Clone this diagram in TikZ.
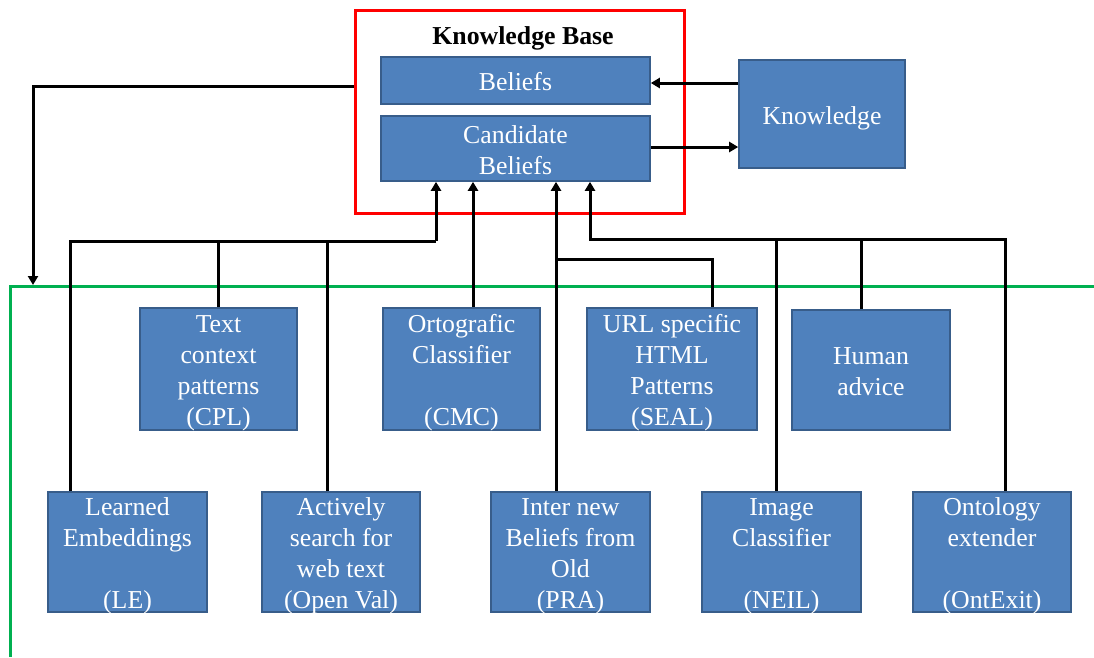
\documentclass[tikz,border=0pt]{standalone}
\usepackage{fontspec}
\setmainfont{Liberation Serif}
\usetikzlibrary{arrows.meta}
\definecolor{boxfill}{HTML}{4F81BD}
\definecolor{boxline}{HTML}{385D8A}
\definecolor{kbred}{HTML}{FF0000}
\definecolor{grn}{HTML}{00B050}
\newcommand{\bxt}[1]{\raisebox{-10.5pt}[0pt][0pt]{\begin{tabular}{@{}c@{}}#1\end{tabular}}}
\tikzset{
  blk/.style={draw=boxline, fill=boxfill, line width=1.6pt, text=white,
    inner sep=0pt, font=\fontsize{25.8}{31}\selectfont},
  conn/.style={draw=black, line width=3pt},
  arr/.style={conn, -{Triangle[length=9pt,width=10pt]}},
}
\begin{document}
\begin{tikzpicture}[x=1pt,y=-1pt]
\useasboundingbox (0,0) rectangle (1094,657);
% frames
\node[draw=kbred, line width=3pt, minimum width=329, minimum height=203, inner sep=0pt] (kb) at (519.5,111.5) {};
\node[font=\fontsize{25.8}{31}\selectfont\bfseries] (kbt) at (523,38) {Knowledge Base};
\draw[grn, line width=3pt] (10,657) -- (10,286) -- (1094,286);
% knowledge base boxes
\node[blk, minimum width=269, minimum height=47] (bel) at (515.5,80.5) {\bxt{Beliefs}};
\node[blk, minimum width=269, minimum height=65] (cand) at (515.5,148.5) {\bxt{Candidate\\Beliefs}};
\node[blk, minimum width=166, minimum height=108] (know) at (822,114) {\bxt{Knowledge}};
% top row
\node[blk, minimum width=157, minimum height=122] (cpl) at (218.5,369) {\bxt{Text\\context\\patterns\\(CPL)}};
\node[blk, minimum width=157, minimum height=122] (cmc) at (461.5,369) {\bxt{Ortografic\\Classifier\\ \\(CMC)}};
\node[blk, minimum width=170, minimum height=122] (seal) at (672,369) {\bxt{URL specific\\HTML\\Patterns\\(SEAL)}};
\node[blk, minimum width=158, minimum height=120] (hum) at (871,370) {\bxt{Human\\advice}};
% bottom row
\node[blk, minimum width=159, minimum height=120] (le) at (127.5,552) {\bxt{Learned\\Embeddings\\ \\(LE)}};
\node[blk, minimum width=158, minimum height=120] (ov) at (341,552) {\bxt{Actively\\search for\\web text\\(Open Val)}};
\node[blk, minimum width=159, minimum height=120] (pra) at (570.5,552) {\bxt{Inter new\\Beliefs from\\Old\\(PRA)}};
\node[blk, minimum width=159, minimum height=120] (neil) at (781.5,552) {\bxt{Image\\Classifier\\ \\(NEIL)}};
\node[blk, minimum width=158, minimum height=120] (ont) at (992,552) {\bxt{Ontology\\extender\\ \\(OntExit)}};
% knowledge connectors
\draw[arr] (know.west |- 0,83) -- (bel.east |- 0,83);
\draw[arr] (cand.east |- 0,147) -- (know.west |- 0,147);
% feedback to green area
\coordinate (gl) at (33,285);
\draw[arr] (kb.west |- 0,86) -| (gl);
% left bus
\coordinate (b1) at (436,241);
\coordinate (xle) at (70,241);
\coordinate (xcpl) at (218.5,241);
\coordinate (xov) at (327,241);
\draw[conn] (xle |- le.north) -- (xle) -- (b1);
\draw[arr] (b1) -- (b1 |- cand.south);
\draw[conn] (cpl.north) -- (xcpl);
\draw[conn] (xov |- ov.north) -- (xov);
% CMC
\coordinate (xcmc) at (473,300);
\draw[arr] (xcmc |- cmc.north) -- (xcmc |- cand.south);
% PRA + SEAL
\coordinate (xpra) at (556,259);
\coordinate (xseal) at (712,259);
\draw[arr] (xpra |- pra.north) -- (xpra |- cand.south);
\draw[conn] (xseal |- seal.north) -- (xseal) -- (xpra);
% right bus
\coordinate (b2) at (590,239);
\coordinate (xneil) at (776,239);
\coordinate (xhum) at (861,239);
\coordinate (xont) at (1005,239);
\draw[arr] (xont |- ont.north) -- (xont) -- (b2) -- (b2 |- cand.south);
\draw[conn] (xneil |- neil.north) -- (xneil);
\draw[conn] (xhum |- hum.north) -- (xhum);
\end{tikzpicture}
\end{document}
